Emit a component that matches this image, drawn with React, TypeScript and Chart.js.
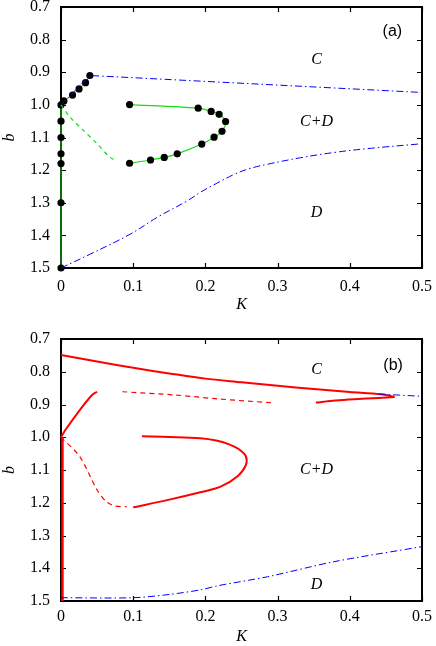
import React, { useEffect, useRef } from "react";
import { Chart, registerables } from "chart.js";

Chart.register(...registerables);

// ---------- shared axis ticks ----------
const xTickValues = [0, 0.1, 0.2, 0.3, 0.4, 0.5];
const yTickValues = [0.7, 0.8, 0.9, 1.0, 1.1, 1.2, 1.3, 1.4, 1.5];
const xTitle = "K";
const yTitle = "b";

// ---------- panel (a) ----------
const aBranchK = [0, 0, 0, 0, 0, 0, 0, 0.004, 0.016, 0.025, 0.034, 0.04];
const aBranchB = [1.5, 1.3, 1.18, 1.15, 1.1, 1.05, 1.0, 0.988, 0.97, 0.951, 0.932, 0.91];
const aLoopK = [0.095, 0.19, 0.208, 0.219, 0.228, 0.223, 0.212, 0.195, 0.161, 0.143, 0.124, 0.095];
const aLoopB = [0.999, 1.01, 1.02, 1.029, 1.051, 1.081, 1.099, 1.12, 1.15, 1.161, 1.169, 1.179];
const aDashK = [0, 0.0125, 0.031, 0.05, 0.068, 0.077];
const aDashB = [1.0, 1.038, 1.078, 1.119, 1.161, 1.171];
const aBlueTopK = [0, 0.04, 0.2, 0.5];
const aBlueTopB = [1.0, 0.91, 0.928, 0.962];
const aBlueLowK = [0, 0.04, 0.096, 0.133, 0.175, 0.193, 0.216, 0.239, 0.26, 0.286, 0.332, 0.378, 0.425, 0.5];
const aBlueLowB = [1.5, 1.458, 1.396, 1.345, 1.294, 1.268, 1.24, 1.214, 1.196, 1.182, 1.162, 1.146, 1.134, 1.119];
const aLabels = ["C", "C+D", "D", "(a)"];
const aLabelK = [0.354, 0.354, 0.354, 0.459];
const aLabelB = [0.863, 1.053, 1.33, 0.776];

// ---------- panel (b) ----------
const bTopUpperK = [0, 0.05, 0.1, 0.15, 0.2, 0.25, 0.3, 0.35, 0.4, 0.443, 0.462];
const bTopUpperB = [0.749, 0.769, 0.788, 0.805, 0.821, 0.832, 0.843, 0.853, 0.862, 0.869, 0.877];
const bTopLowerK = [0.462, 0.44, 0.406, 0.38, 0.353];
const bTopLowerB = [0.877, 0.88, 0.884, 0.888, 0.894];
const bDashTopK = [0.085, 0.158, 0.218, 0.293];
const bDashTopB = [0.861, 0.871, 0.883, 0.895];
const bDiagK = [0, 0.006, 0.026, 0.043, 0.05];
const bDiagB = [1.0, 0.978, 0.917, 0.871, 0.861];
const bDashLowK = [0, 0.026, 0.05, 0.063, 0.075, 0.091];
const bDashLowB = [1.0, 1.059, 1.161, 1.197, 1.21, 1.212];
const bLoopK = [0.1, 0.147, 0.193, 0.221, 0.245, 0.256, 0.256, 0.246, 0.232, 0.215, 0.193, 0.15, 0.112];
const bLoopB = [1.214, 1.192, 1.168, 1.151, 1.118, 1.085, 1.058, 1.036, 1.021, 1.01, 1.003, 0.999, 0.997];
const bVertK = [0.002, 0.002];
const bVertB = [1.0, 1.5];
const bBlueLowK = [0, 0.1, 0.15, 0.193, 0.218, 0.286, 0.378, 0.5];
const bBlueLowB = [1.49, 1.49, 1.48, 1.466, 1.453, 1.426, 1.38, 1.334];
const bBlueTopK = [0.44, 0.5];
const bBlueTopB = [0.868, 0.875];
const bLabels = ["C", "C+D", "D", "(b)"];
const bLabelK = [0.354, 0.354, 0.354, 0.46];
const bLabelB = [0.793, 1.1, 1.451, 0.782];

const GREEN = "#11dd11";
const BLUE = "#0000ff";
const RED = "#ff0000";
const SERIF = '"Liberation Serif", "Times New Roman", Times, serif';
const SANS = '"Liberation Sans", Arial, sans-serif';

const pts = (k: number[], b: number[]) => k.map((v, i) => ({ x: v, y: b[i] }));

function line(label: string, k: number[], b: number[], color: string, width: number, dash: number[], tension = 0, dots = false) {
  return {
    label,
    data: pts(k, b),
    borderColor: color,
    backgroundColor: color,
    borderWidth: width,
    borderDash: dash,
    tension,
    fill: false,
    showLine: true,
    clip: false,
    pointRadius: dots ? 3.6 : 0,
    pointBackgroundColor: "#000",
    pointBorderColor: "#000",
    pointBorderWidth: 0,
  };
}

const frameAndLabels = {
  id: "frameAndLabels",
  beforeDatasetsDraw(chart: any) {
    const { ctx, chartArea, scales } = chart;
    const { left, right, top, bottom } = chartArea;
    const x = scales.x;
    const y = scales.y;
    ctx.save();
    ctx.strokeStyle = "#000";
    ctx.lineWidth = 1.2;
    ctx.beginPath();
    for (const v of xTickValues) {
      const px = Math.round(x.getPixelForValue(v)) + 0.5;
      ctx.moveTo(px, bottom);
      ctx.lineTo(px, bottom - 5);
      ctx.moveTo(px, top);
      ctx.lineTo(px, top + 5);
    }
    for (const v of yTickValues) {
      const py = Math.round(y.getPixelForValue(v)) + 0.5;
      ctx.moveTo(left, py);
      ctx.lineTo(left + 5, py);
      ctx.moveTo(right, py);
      ctx.lineTo(right - 5, py);
    }
    ctx.stroke();
    ctx.lineWidth = 2;
    ctx.strokeRect(left, top, right - left, bottom - top);
    ctx.restore();
  },
  afterDatasetsDraw(chart: any) {
    const { ctx, scales } = chart;
    const x = scales.x;
    const y = scales.y;
    const opts = chart.options.plugins.frameAndLabels || {};
    const texts: string[] = opts.texts || [];
    const ks: number[] = opts.ks || [];
    const bs: number[] = opts.bs || [];
    ctx.save();
    ctx.fillStyle = "#000";
    ctx.textAlign = "center";
    ctx.textBaseline = "middle";
    texts.forEach((t, i) => {
      ctx.font = t.startsWith("(") ? `16px ${SANS}` : `italic 16px ${SERIF}`;
      ctx.fillText(t, x.getPixelForValue(ks[i]), y.getPixelForValue(bs[i]));
    });
    ctx.restore();
  },
};

function makeConfig(datasets: any[], texts: string[], ks: number[], bs: number[], padTop: number, xHeight: number, xPad: number) {
  return {
    type: "scatter" as const,
    data: { datasets },
    plugins: [frameAndLabels],
    options: {
      responsive: false,
      animation: false as const,
      layout: { padding: { left: 0, right: 14, top: padTop, bottom: 0 } },
      plugins: {
        legend: { display: false },
        tooltip: { enabled: false },
        frameAndLabels: { texts, ks, bs },
      },
      scales: {
        x: {
          type: "linear" as const,
          min: 0,
          max: 0.5,
          grid: { display: false, drawTicks: false },
          border: { display: false },
          afterBuildTicks: (s: any) => {
            s.ticks = xTickValues.map((v) => ({ value: v }));
          },
          afterFit: (s: any) => {
            s.height = xHeight;
            s.paddingLeft = 0;
            s.paddingRight = 0;
            s.paddingTop = 0;
            s.paddingBottom = 0;
          },
          ticks: {
            padding: xPad,
            color: "#000",
            font: { family: SERIF, size: 16 },
            maxRotation: 0,
            callback: (v: any) => (v === 0 ? "0" : Number(v).toFixed(1)),
          },
          title: {
            display: true,
            text: xTitle,
            color: "#000",
            padding: 0,
            font: { family: SERIF, size: 16, style: "italic" as const },
          },
        },
        y: {
          type: "linear" as const,
          min: 0.7,
          max: 1.5,
          reverse: true,
          grid: { display: false, drawTicks: false },
          border: { display: false },
          afterBuildTicks: (s: any) => {
            s.ticks = yTickValues.map((v) => ({ value: v }));
          },
          afterFit: (s: any) => {
            s.width = 61;
            s.paddingLeft = 0;
            s.paddingRight = 0;
            s.paddingTop = 0;
            s.paddingBottom = 0;
          },
          ticks: {
            padding: 11,
            color: "#000",
            font: { family: SERIF, size: 16 },
            callback: (v: any) => Number(v).toFixed(1),
          },
          title: {
            display: true,
            text: yTitle,
            color: "#000",
            padding: 0,
            font: { family: SERIF, size: 16, style: "italic" as const },
          },
        },
      },
    },
  };
}

export default function App() {
  const refA = useRef<HTMLCanvasElement>(null);
  const refB = useRef<HTMLCanvasElement>(null);

  useEffect(() => {
    let cA: Chart | null = null;
    let cB: Chart | null = null;
    let cancelled = false;
    const build = () => {
      if (cancelled) return;
      const dsA = [
        line("blue upper", aBlueTopK, aBlueTopB, BLUE, 1, [7, 3, 1.5, 3]),
        line("blue lower", aBlueLowK, aBlueLowB, BLUE, 1, [7, 3, 1.5, 3], 0.4),
        line("green dashed", aDashK, aDashB, GREEN, 1.2, [4, 4], 0.3),
        line("green loop", aLoopK, aLoopB, GREEN, 1.2, [], 0.3, true),
        line("green branch", aBranchK, aBranchB, GREEN, 1, [], 0, true),
      ];
      const dsB = [
        line("blue upper", bBlueTopK, bBlueTopB, BLUE, 1, [7, 3, 1.5, 3]),
        line("blue lower", bBlueLowK, bBlueLowB, BLUE, 1, [7, 3, 1.5, 3], 0.3),
        line("red top upper", bTopUpperK, bTopUpperB, RED, 2, [], 0.3),
        line("red top lower", bTopLowerK, bTopLowerB, RED, 2, [], 0.3),
        line("red dashed top", bDashTopK, bDashTopB, RED, 1.2, [5, 4], 0.3),
        line("red diag", bDiagK, bDiagB, RED, 2, [], 0.3),
        line("red dashed low", bDashLowK, bDashLowB, RED, 1.2, [5, 4], 0.3),
        line("red loop", bLoopK, bLoopB, RED, 2, [], 0.35),
        line("red vertical", bVertK, bVertB, RED, 2.5, []),
      ];
      cA = new Chart(refA.current as HTMLCanvasElement, makeConfig(dsA, aLabels, aLabelK, aLabelB, 7, 46, 9) as any);
      cB = new Chart(refB.current as HTMLCanvasElement, makeConfig(dsB, bLabels, bLabelK, bLabelB, 25, 45, 6) as any);
    };
    const fonts = (document as any).fonts;
    if (fonts && fonts.load) {
      Promise.all([
        fonts.load('16px "Liberation Serif"'),
        fonts.load('italic 16px "Liberation Serif"'),
        fonts.load('16px "Liberation Sans"'),
      ])
        .catch(() => null)
        .then(build);
    } else {
      build();
    }
    return () => {
      cancelled = true;
      if (cA) cA.destroy();
      if (cB) cB.destroy();
    };
  }, []);

  return (
    <div style={{ position: "fixed", left: 0, top: 0, width: 436, height: 646, background: "#fff" }}>
      <canvas ref={refA} width={436} height={314} style={{ position: "absolute", left: 0, top: 0 }} />
      <canvas ref={refB} width={436} height={332} style={{ position: "absolute", left: 0, top: 314 }} />
    </div>
  );
}
